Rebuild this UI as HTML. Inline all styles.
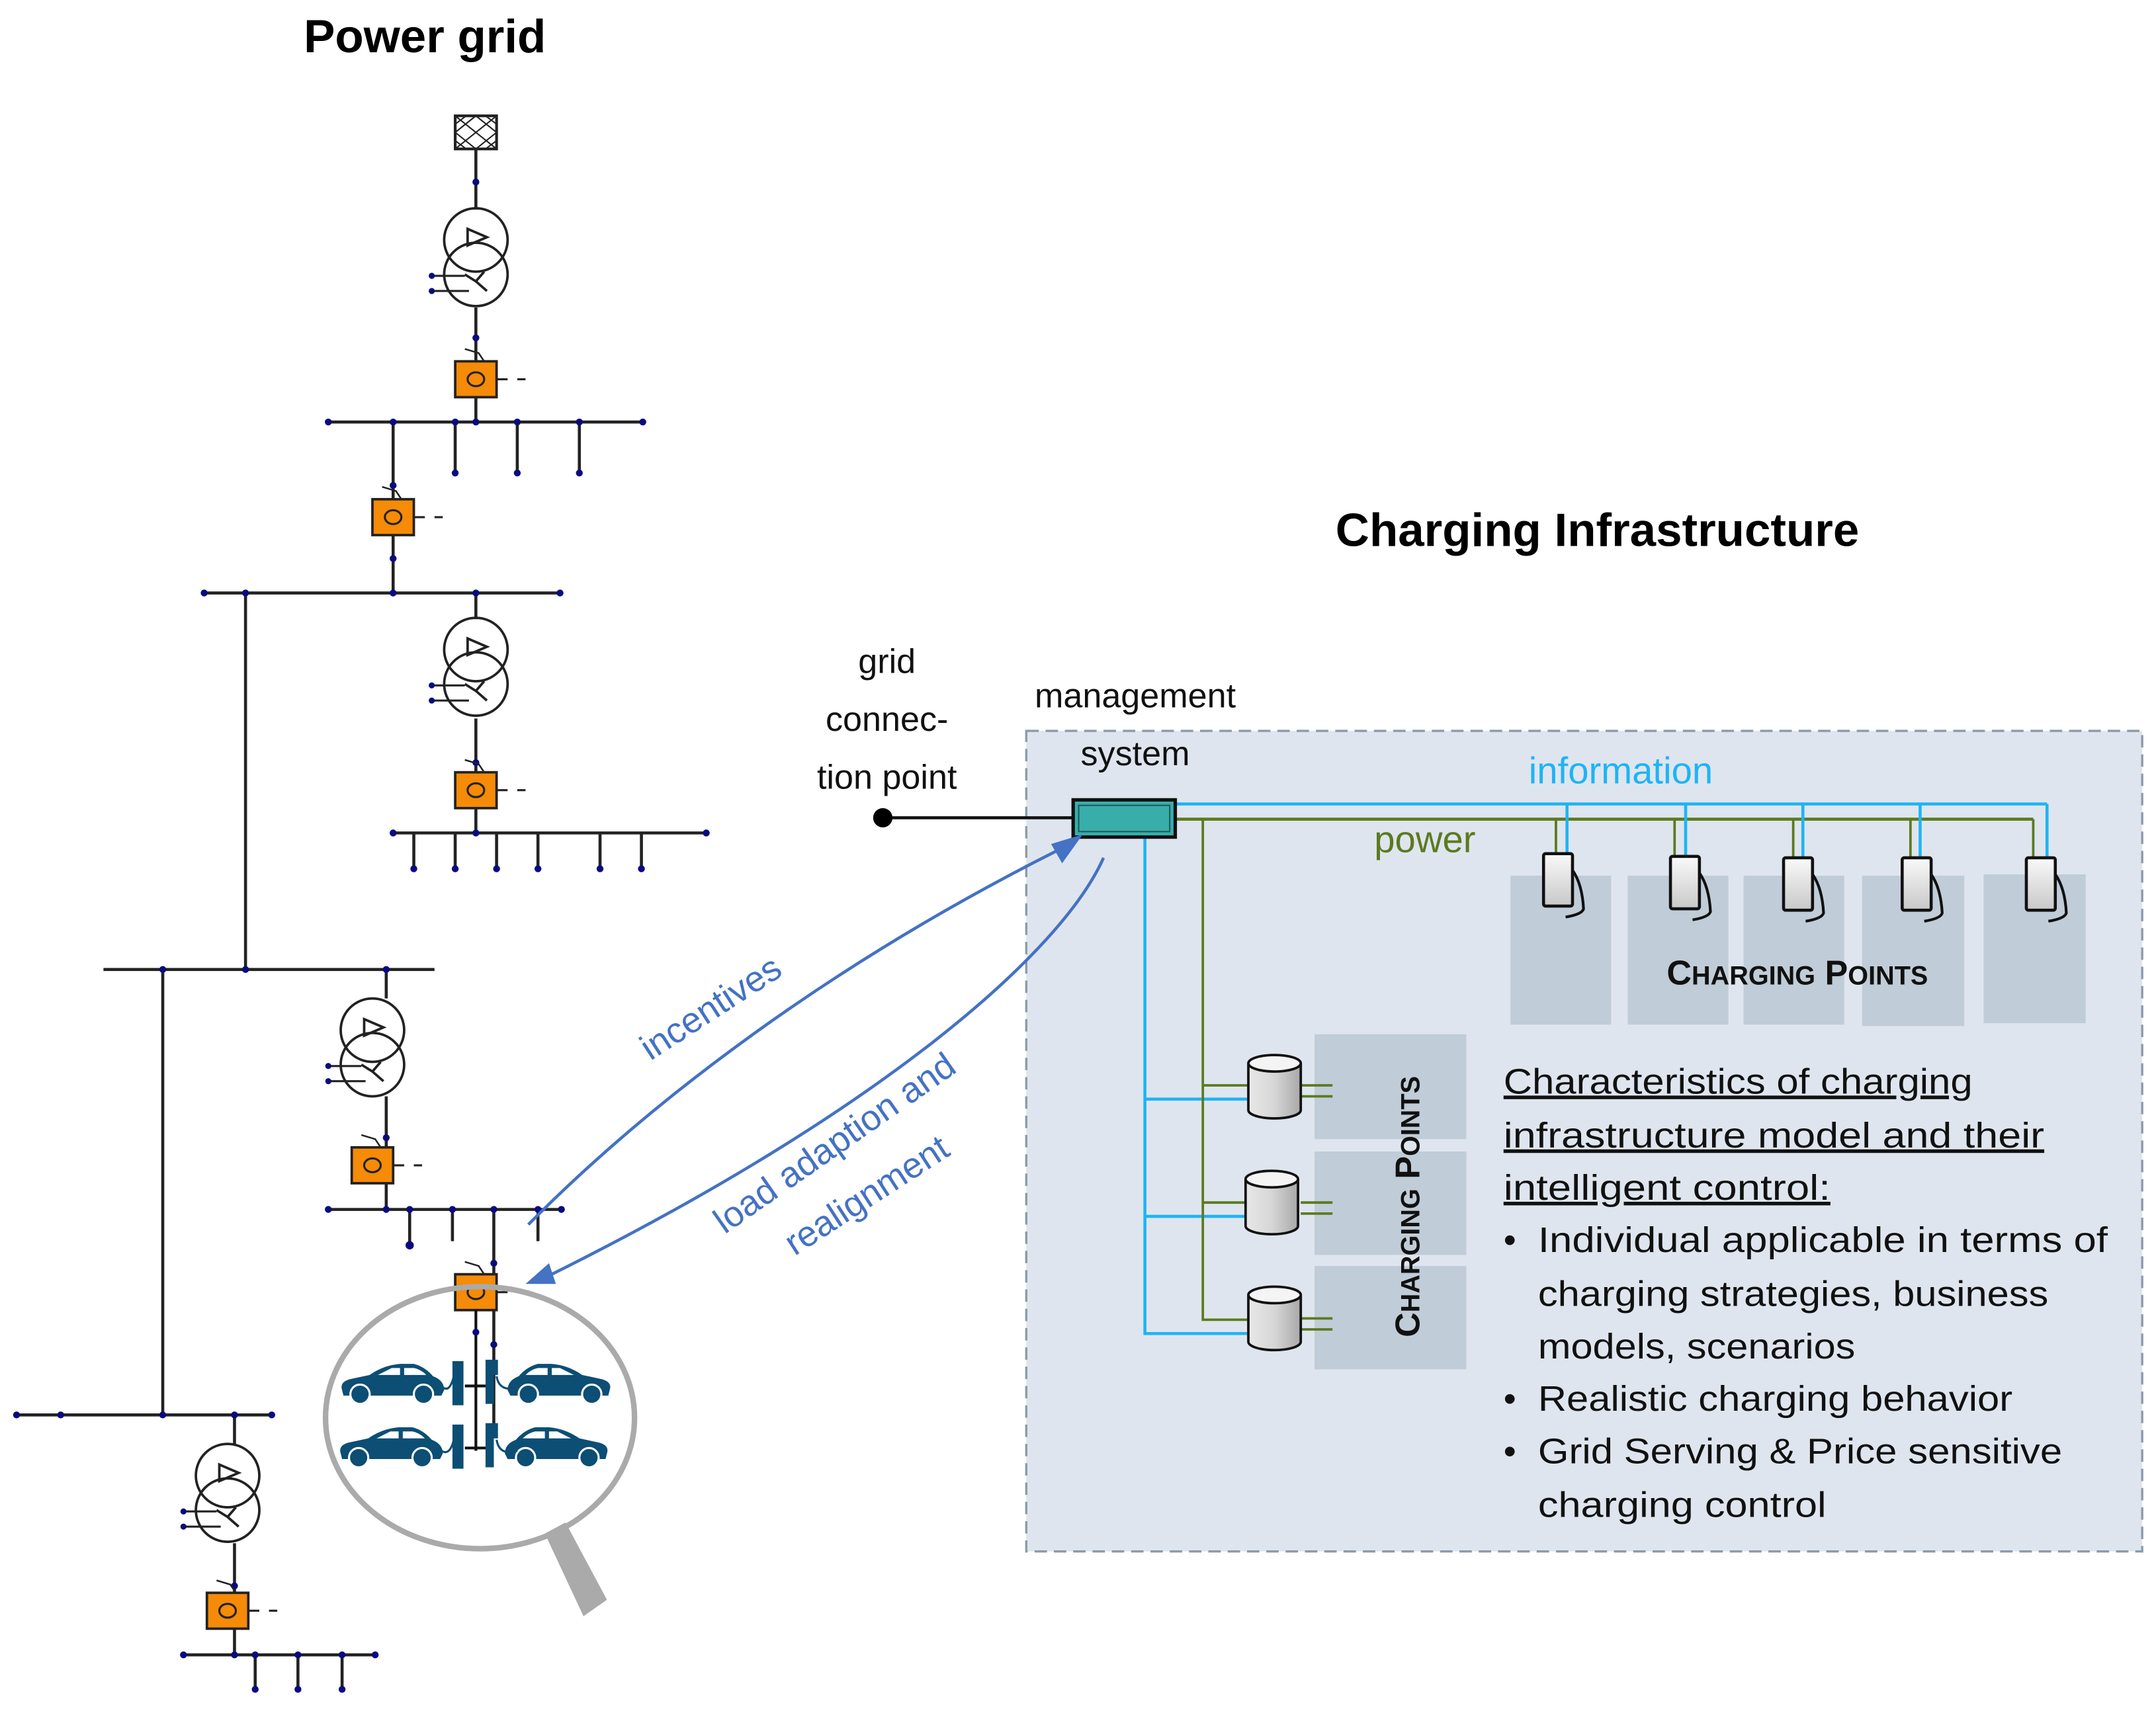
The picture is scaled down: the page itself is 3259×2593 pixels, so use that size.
<!DOCTYPE html>
<html><head><meta charset="utf-8"><style>
html,body{margin:0;padding:0;background:#fff}
svg{display:block}
text{font-family:"Liberation Sans",sans-serif}
</style></head><body>
<svg width="3259" height="2593" viewBox="0 0 1563 1243.6" preserveAspectRatio="none" xmlns="http://www.w3.org/2000/svg">
<defs>
<linearGradient id="gr" x1="0" y1="0" x2="0" y2="1"><stop offset="0" stop-color="#fafafa"/><stop offset="1" stop-color="#c8c8c8"/></linearGradient>
<linearGradient id="gc" x1="0" y1="0" x2="1" y2="0"><stop offset="0" stop-color="#e8e8e8"/><stop offset="0.5" stop-color="#d6d6d6"/><stop offset="1" stop-color="#a8a8a8"/></linearGradient>
<g id="tr">
 <circle cx="0" cy="0" r="23" fill="none" stroke="#222" stroke-width="1.8"/>
 <circle cx="0" cy="25" r="23" fill="none" stroke="#222" stroke-width="1.8"/>
 <path d="M-6,-8 L8,-2 L-6,4 Z" fill="none" stroke="#222" stroke-width="1.8"/>
 <path d="M0,30 L-8,25 M0,30 L6,23 M0,30 L8,37" fill="none" stroke="#222" stroke-width="1.8"/>
 <path d="M-32,26 L-8,26 M-32,37 L-5,37" stroke="#222" stroke-width="1.5"/>
 <circle cx="-32" cy="26" r="2.2" fill="#0a0a80"/><circle cx="-32" cy="37" r="2.2" fill="#0a0a80"/>
</g>
<g id="ob">
 <path d="M-8,-22 L2,-19 L6,-13" fill="none" stroke="#222" stroke-width="1.2"/>
 <rect x="-15" y="-13" width="30" height="26" fill="#f58b07" stroke="#222" stroke-width="1.8"/>
 <ellipse cx="0" cy="0" rx="6" ry="5" fill="none" stroke="#222" stroke-width="1.5"/>
 <path d="M15,0 L23,0 M30,0 L36,0" stroke="#222" stroke-width="1.5"/>
</g>
<g id="car">
 <path d="M2,19 Q0,13 8,11 L22,8 Q32,1 44,0 L54,0 Q62,2 68,9 Q76,12 76,19 L74,23 L3,23 Z" fill="#0c4e74"/>
 <path d="M28,8 L38,3 L44,3 L44,8 Z M47,3 L54,3 Q59,4 63,8 L47,8 Z" fill="#fff"/>
 <circle cx="15" cy="22" r="7" fill="#0c4e74" stroke="#fff" stroke-width="1.5"/>
 <circle cx="61" cy="22" r="7" fill="#0c4e74" stroke="#fff" stroke-width="1.5"/>
</g>
<g id="cp">
 <rect x="0" y="0" width="21" height="38" rx="1.5" fill="url(#gr)" stroke="#111" stroke-width="2.2"/>
 <path d="M21,12 Q28,22 29,40 Q28,44 16,46" fill="none" stroke="#111" stroke-width="2"/>
</g>
<g id="cyl">
 <path d="M0,6 L0,40 A19,6 0 0 0 38,40 L38,6" fill="url(#gc)" stroke="#111" stroke-width="1.8"/>
 <ellipse cx="19" cy="6" rx="19" ry="6" fill="#f4f4f4" stroke="#111" stroke-width="1.8"/>
</g>
</defs>

<text x="308" y="38" font-size="34" font-weight="bold" text-anchor="middle">Power grid</text>

<g stroke="#222" stroke-width="2.2" fill="none">
 <line x1="345" y1="108" x2="345" y2="152"/>
 <line x1="345" y1="223" x2="345" y2="306"/>
 <line x1="238" y1="306" x2="466" y2="306"/>
 <line x1="330" y1="306" x2="330" y2="343"/><line x1="375" y1="306" x2="375" y2="343"/><line x1="420" y1="306" x2="420" y2="343"/>
 <line x1="285" y1="306" x2="285" y2="430"/>
 <line x1="148" y1="430" x2="406" y2="430"/>
 <line x1="345" y1="430" x2="345" y2="449"/>
 <line x1="345" y1="521" x2="345" y2="604"/>
 <line x1="285" y1="604" x2="512" y2="604"/>
 <line x1="300" y1="604" x2="300" y2="630"/><line x1="330" y1="604" x2="330" y2="630"/><line x1="360" y1="604" x2="360" y2="630"/><line x1="390" y1="604" x2="390" y2="630"/><line x1="435" y1="604" x2="435" y2="630"/><line x1="465" y1="604" x2="465" y2="630"/>
 <line x1="178" y1="430" x2="178" y2="703"/>
 <line x1="75" y1="703" x2="315" y2="703"/>
 <line x1="280" y1="703" x2="280" y2="724"/>
 <line x1="280" y1="795" x2="280" y2="877"/>
 <line x1="238" y1="877" x2="407" y2="877"/>
 <line x1="297" y1="877" x2="297" y2="903"/><line x1="328" y1="877" x2="328" y2="900"/><line x1="390" y1="877" x2="390" y2="900"/>
 <line x1="358" y1="877" x2="358" y2="1040"/>
 <line x1="118" y1="703" x2="118" y2="1026"/>
 <line x1="10" y1="1026" x2="197" y2="1026"/>
 <line x1="170" y1="1026" x2="170" y2="1048"/>
 <line x1="170" y1="1119" x2="170" y2="1200"/>
 <line x1="133" y1="1200" x2="272" y2="1200"/>
 <line x1="185" y1="1200" x2="185" y2="1225"/><line x1="216" y1="1200" x2="216" y2="1225"/><line x1="248" y1="1200" x2="248" y2="1225"/>
</g>
<g fill="#0a0a80">
 <circle cx="345" cy="132" r="2.5"/><circle cx="345" cy="245" r="2.5"/><circle cx="345" cy="306" r="2.5"/>
 <circle cx="238" cy="306" r="2.5"/><circle cx="466" cy="306" r="2.5"/><circle cx="285" cy="306" r="2.5"/><circle cx="330" cy="306" r="2.5"/><circle cx="375" cy="306" r="2.5"/><circle cx="420" cy="306" r="2.5"/>
 <circle cx="330" cy="343" r="2.5"/><circle cx="375" cy="343" r="2.5"/><circle cx="420" cy="343" r="2.5"/>
 <circle cx="285" cy="352" r="2.5"/><circle cx="285" cy="405" r="2.5"/>
 <circle cx="148" cy="430" r="2.5"/><circle cx="178" cy="430" r="2.5"/><circle cx="285" cy="430" r="2.5"/><circle cx="345" cy="430" r="2.5"/><circle cx="406" cy="430" r="2.5"/>
 <circle cx="345" cy="553" r="2.5"/>
 <circle cx="285" cy="604" r="2.5"/><circle cx="512" cy="604" r="2.5"/><circle cx="345" cy="604" r="2.5"/>
 <circle cx="300" cy="630" r="2.5"/><circle cx="330" cy="630" r="2.5"/><circle cx="360" cy="630" r="2.5"/><circle cx="390" cy="630" r="2.5"/><circle cx="435" cy="630" r="2.5"/><circle cx="465" cy="630" r="2.5"/>
 <circle cx="118" cy="703" r="2.5"/><circle cx="178" cy="703" r="2.5"/><circle cx="280" cy="703" r="2.5"/>
 <circle cx="280" cy="825" r="2.5"/><circle cx="238" cy="877" r="2.5"/><circle cx="280" cy="877" r="2.5"/><circle cx="297" cy="877" r="2.5"/><circle cx="328" cy="877" r="2.5"/><circle cx="358" cy="877" r="2.5"/><circle cx="390" cy="877" r="2.5"/><circle cx="407" cy="877" r="2.5"/>
 <circle cx="297" cy="903" r="3"/><circle cx="358" cy="916" r="2.5"/><circle cx="358" cy="975" r="2.5"/>
 <circle cx="12" cy="1026" r="2.5"/><circle cx="44" cy="1026" r="2.5"/><circle cx="118" cy="1026" r="2.5"/><circle cx="170" cy="1026" r="2.5"/><circle cx="197" cy="1026" r="2.5"/>
 <circle cx="170" cy="1150" r="2.5"/><circle cx="133" cy="1200" r="2.5"/><circle cx="170" cy="1200" r="2.5"/><circle cx="185" cy="1200" r="2.5"/><circle cx="216" cy="1200" r="2.5"/><circle cx="248" cy="1200" r="2.5"/><circle cx="272" cy="1200" r="2.5"/>
 <circle cx="185" cy="1225" r="2.5"/><circle cx="216" cy="1225" r="2.5"/><circle cx="248" cy="1225" r="2.5"/>
</g>
<rect x="330" y="84" width="30" height="24" fill="#fff" stroke="#222" stroke-width="2"/>
<path d="M330,84 L360,108 M360,84 L330,108 M345,84 L360,96 L345,108 L330,96 Z M330,90 L338,84 M352,84 L360,90 M330,102 L338,108 M352,108 L360,102" stroke="#222" stroke-width="1" fill="none"/>
<use href="#tr" x="345" y="174"/>
<use href="#ob" x="345" y="275"/>
<use href="#ob" x="285" y="375"/>
<use href="#tr" x="345" y="471"/>
<use href="#ob" x="345" y="573"/>
<use href="#tr" x="270" y="747"/>
<use href="#ob" x="270" y="845"/>
<use href="#tr" x="165" y="1070"/>
<use href="#ob" x="165" y="1168"/>
<use href="#ob" x="345" y="937"/>

<polygon points="395,1112 410,1104 440,1160 423,1172" fill="#aaa"/>
<ellipse cx="348" cy="1028" rx="112" ry="95" fill="none" stroke="#aaa" stroke-width="4"/>
<g stroke="#111" stroke-width="2">
 <line x1="345" y1="950" x2="345" y2="1052"/>
 <line x1="337" y1="1005" x2="352" y2="1005"/>
 <line x1="337" y1="1050" x2="352" y2="1050"/>
</g>
<circle cx="345" cy="966" r="2.5" fill="#0a0a80"/>
<use href="#car" x="246" y="989"/>
<use href="#car" x="245" y="1035"/>
<g transform="translate(444,989) scale(-1,1)"><use href="#car"/></g>
<g transform="translate(442,1035) scale(-1,1)"><use href="#car"/></g>
<g fill="#0c4e74">
 <rect x="328" y="987" width="8" height="32"/><rect x="328" y="1033" width="8" height="32"/>
 <path d="M352,986 L361,986 L361,997 L358,997 L358,1018 L352,1018 Z"/>
 <path d="M352,1032 L361,1032 L361,1043 L358,1043 L358,1064 L352,1064 Z"/>
</g>
<g stroke="#0c4e74" stroke-width="1.5" fill="none">
 <path d="M321,1006 Q326,1010 329,998"/><path d="M320,1052 Q326,1056 329,1044"/>
 <path d="M360,998 Q362,1010 376,1006"/><path d="M360,1044 Q362,1056 375,1052"/>
</g>

<text x="1158" y="396" font-size="34" font-weight="bold" text-anchor="middle">Charging Infrastructure</text>
<rect x="744" y="530" width="809" height="595" fill="#dfe5ee" stroke="#8c9aaa" stroke-width="1.6" stroke-dasharray="9,5"/>

<g font-size="25" text-anchor="middle" fill="#111">
 <text x="643" y="488">grid</text>
 <text x="643" y="530">connec-</text>
 <text x="643" y="572">tion point</text>
 <text x="823" y="513">management</text>
 <text x="823" y="555">system</text>
</g>
<line x1="640" y1="593" x2="780" y2="593" stroke="#111" stroke-width="2.2"/>
<circle cx="640" cy="593" r="7" fill="#000"/>

<g fill="#c0ccd8">
 <rect x="1095" y="635" width="73" height="108"/><rect x="1180" y="635" width="73" height="108"/><rect x="1264" y="635" width="73" height="108"/><rect x="1350" y="635" width="74" height="109"/><rect x="1438" y="634" width="74" height="108"/>
 <rect x="953" y="750" width="110" height="76"/><rect x="953" y="835" width="110" height="75"/><rect x="953" y="918" width="110" height="75"/>
</g>

<g fill="none" stroke-width="2.2">
 <path d="M852,583 L1484,583" stroke="#1eb4f5"/>
 <path d="M852,594 L1474,594" stroke="#5b7a1f"/>
 <g stroke="#1eb4f5"><path d="M1136,583 V625 M1222,583 V625 M1307,583 V625 M1392,583 V625 M1484,583 V625"/>
 <path d="M830,607 V967 H905 M830,797 H905 M830,882 H905"/></g>
 <g stroke="#5b7a1f" stroke-width="1.8"><path d="M1128,594 V625 M1214,594 V625 M1300,594 V625 M1385,594 V625 M1474,594 V625"/>
 <path d="M872,594 V957 H905 M872,787 H905 M872,872 H905"/>
 <path d="M943,787 H966 M943,795 H966 M943,872 H966 M943,880 H966 M943,956 H966 M943,964 H966"/></g>
</g>
<rect x="778" y="580" width="74" height="27" fill="#38aeab" stroke="#111" stroke-width="2.5"/>
<rect x="782" y="584" width="66" height="19" fill="none" stroke="#1d5a58" stroke-width="1"/>

<use href="#cp" x="1119" y="619"/>
<use href="#cp" x="1211" y="621"/>
<use href="#cp" x="1293" y="622"/>
<use href="#cp" x="1379" y="622"/>
<use href="#cp" x="1469" y="622"/>
<use href="#cyl" x="905" y="765"/>
<use href="#cyl" x="903" y="849"/>
<use href="#cyl" x="905" y="933"/>

<text x="1175" y="568" font-size="27" fill="#1eb4f5" text-anchor="middle">information</text>
<text x="1033" y="618" font-size="27" fill="#5b7a1f" text-anchor="middle">power</text>
<text x="1303" y="714" font-size="25" font-weight="bold" text-anchor="middle" fill="#111">C<tspan font-size="19">HARGING</tspan> P<tspan font-size="19">OINTS</tspan></text>
<text transform="translate(1029,875) rotate(-90)" font-size="25" font-weight="bold" text-anchor="middle" fill="#111">C<tspan font-size="19">HARGING</tspan> P<tspan font-size="19">OINTS</tspan></text>

<g font-size="26" fill="#111">
 <text x="1090" y="793" text-decoration="underline" textLength="340" lengthAdjust="spacingAndGlyphs">Characteristics of charging</text>
 <text x="1090" y="832" text-decoration="underline" textLength="392" lengthAdjust="spacingAndGlyphs">infrastructure model and their</text>
 <text x="1090" y="870" text-decoration="underline" textLength="237" lengthAdjust="spacingAndGlyphs">intelligent control:</text>
 <text x="1090" y="908">•</text><text x="1115" y="908" textLength="413" lengthAdjust="spacingAndGlyphs">Individual applicable in terms of</text>
 <text x="1115" y="947" textLength="370" lengthAdjust="spacingAndGlyphs">charging strategies, business</text>
 <text x="1115" y="985" textLength="230" lengthAdjust="spacingAndGlyphs">models, scenarios</text>
 <text x="1090" y="1023">•</text><text x="1115" y="1023" textLength="344" lengthAdjust="spacingAndGlyphs">Realistic charging behavior</text>
 <text x="1090" y="1061">•</text><text x="1115" y="1061" textLength="380" lengthAdjust="spacingAndGlyphs">Grid Serving &amp; Price sensitive</text>
 <text x="1115" y="1100" textLength="209" lengthAdjust="spacingAndGlyphs">charging control</text>
</g>

<g fill="none" stroke="#4472c4" stroke-width="2.2">
 <path d="M383,888 C470,800 600,700 770,615"/>
 <path d="M800,622 C770,690 640,805 398,925"/>
</g>
<polygon points="785,605 762,612 770,626" fill="#4472c4"/>
<polygon points="381,931 398,916 403,931" fill="#4472c4"/>
<g font-size="26" fill="#4472c4" text-anchor="middle">
 <text transform="translate(520,738) rotate(-33)">incentives</text>
 <text transform="translate(610,836) rotate(-35)">load adaption and</text>
 <text transform="translate(633,874) rotate(-33)">realignment</text>
</g>
</svg>
</body></html>
